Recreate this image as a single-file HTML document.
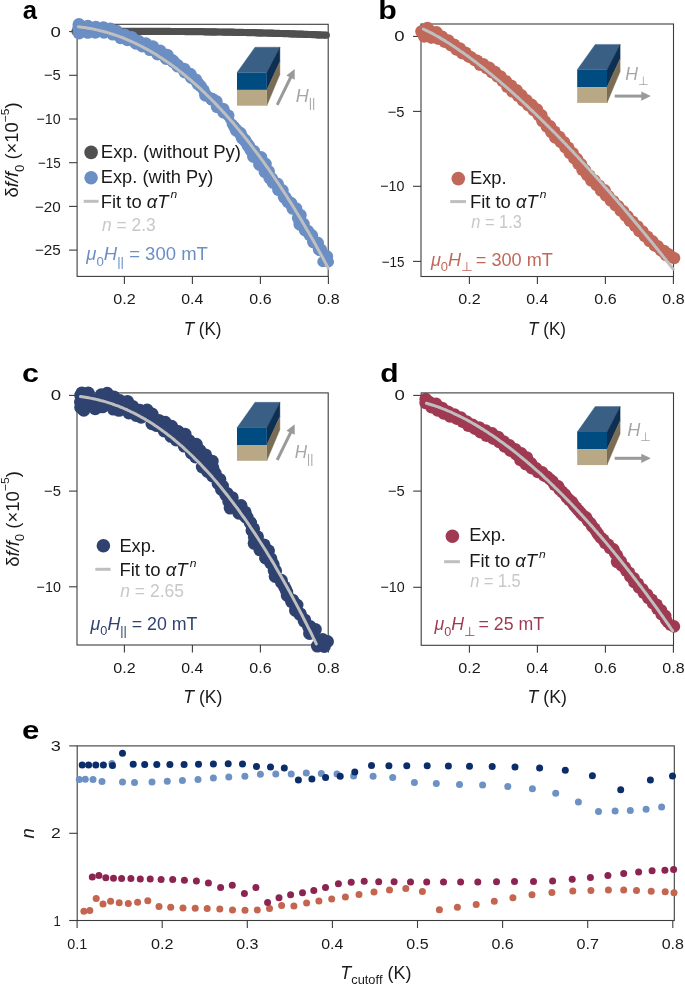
<!DOCTYPE html>
<html><head><meta charset="utf-8"><style>html,body{margin:0;padding:0;background:#fff;width:685px;height:985px;overflow:hidden}</style></head>
<body>
<svg width="685" height="985" viewBox="0 0 685 985" style="position:absolute;left:0;top:0;will-change:transform">
<rect width="685" height="985" fill="#fff"/>
<g font-family='"Liberation Sans", sans-serif' style="font-kerning:none" fill="#1a1a1a">
<rect x="77.1" y="24.3" width="251.1" height="252.09999999999997" fill="none" stroke="#3c3c3c" stroke-width="1.1"/>
<line x1="69.1" y1="31.6" x2="77.1" y2="31.6" stroke="#3c3c3c" stroke-width="1.1" stroke-linecap="butt"/>
<g transform="translate(50.57,36.6) scale(1.2012,1)" fill="#1a1a1a"><text x="0.00" y="0" font-size="15.5" xml:space="preserve">0</text></g>
<line x1="69.1" y1="75.3" x2="77.1" y2="75.3" stroke="#3c3c3c" stroke-width="1.1" stroke-linecap="butt"/>
<g transform="translate(43.97,80.4) scale(0.9852,1)" fill="#1a1a1a"><text x="0.00" y="0" font-size="15" xml:space="preserve">−5</text></g>
<line x1="69.1" y1="119.0" x2="77.1" y2="119.0" stroke="#3c3c3c" stroke-width="1.1" stroke-linecap="butt"/>
<g transform="translate(36.49,124.1) scale(0.9536,1)" fill="#1a1a1a"><text x="0.00" y="0" font-size="15" xml:space="preserve">−10</text></g>
<line x1="69.1" y1="162.7" x2="77.1" y2="162.7" stroke="#3c3c3c" stroke-width="1.1" stroke-linecap="butt"/>
<g transform="translate(38.04,167.8) scale(0.8931,1)" fill="#1a1a1a"><text x="0.00" y="0" font-size="15" xml:space="preserve">−15</text></g>
<line x1="69.1" y1="206.4" x2="77.1" y2="206.4" stroke="#3c3c3c" stroke-width="1.1" stroke-linecap="butt"/>
<g transform="translate(34.95,211.5) scale(1.0158,1)" fill="#1a1a1a"><text x="0.00" y="0" font-size="15" xml:space="preserve">−20</text></g>
<line x1="69.1" y1="250.1" x2="77.1" y2="250.1" stroke="#3c3c3c" stroke-width="1.1" stroke-linecap="butt"/>
<g transform="translate(34.95,255.2) scale(1.0177,1)" fill="#1a1a1a"><text x="0.00" y="0" font-size="15" xml:space="preserve">−25</text></g>
<line x1="124.4" y1="276.4" x2="124.4" y2="283.9" stroke="#3c3c3c" stroke-width="1.1" stroke-linecap="butt"/>
<g transform="translate(113.27,304) scale(1.0763,1)" fill="#1a1a1a"><text x="0.00" y="0" font-size="15" xml:space="preserve">0.2</text></g>
<line x1="192.4" y1="276.4" x2="192.4" y2="283.9" stroke="#3c3c3c" stroke-width="1.1" stroke-linecap="butt"/>
<g transform="translate(181.28,304) scale(1.0592,1)" fill="#1a1a1a"><text x="0.00" y="0" font-size="15" xml:space="preserve">0.4</text></g>
<line x1="260.4" y1="276.4" x2="260.4" y2="283.9" stroke="#3c3c3c" stroke-width="1.1" stroke-linecap="butt"/>
<g transform="translate(249.27,304) scale(1.0710,1)" fill="#1a1a1a"><text x="0.00" y="0" font-size="15" xml:space="preserve">0.6</text></g>
<line x1="328.4" y1="276.4" x2="328.4" y2="283.9" stroke="#3c3c3c" stroke-width="1.1" stroke-linecap="butt"/>
<g transform="translate(317.27,304) scale(1.0706,1)" fill="#1a1a1a"><text x="0.00" y="0" font-size="15" xml:space="preserve">0.8</text></g>
<g fill="#505050"><circle cx="75.0" cy="31.4" r="3.6"/><circle cx="76.6" cy="31.4" r="3.6"/><circle cx="78.2" cy="31.4" r="3.6"/><circle cx="79.7" cy="31.4" r="3.6"/><circle cx="81.3" cy="31.4" r="3.6"/><circle cx="82.9" cy="31.4" r="3.6"/><circle cx="84.5" cy="31.4" r="3.6"/><circle cx="86.1" cy="31.4" r="3.6"/><circle cx="87.6" cy="31.4" r="3.6"/><circle cx="89.2" cy="31.4" r="3.6"/><circle cx="90.8" cy="31.4" r="3.6"/><circle cx="92.4" cy="31.4" r="3.6"/><circle cx="94.0" cy="31.4" r="3.6"/><circle cx="95.5" cy="31.4" r="3.6"/><circle cx="97.1" cy="31.4" r="3.6"/><circle cx="98.7" cy="31.4" r="3.6"/><circle cx="100.3" cy="31.4" r="3.6"/><circle cx="101.9" cy="31.4" r="3.6"/><circle cx="103.4" cy="31.4" r="3.6"/><circle cx="105.0" cy="31.4" r="3.6"/><circle cx="106.6" cy="31.4" r="3.6"/><circle cx="108.2" cy="31.4" r="3.6"/><circle cx="109.8" cy="31.4" r="3.6"/><circle cx="111.4" cy="31.4" r="3.6"/><circle cx="112.9" cy="31.4" r="3.6"/><circle cx="114.5" cy="31.4" r="3.6"/><circle cx="116.1" cy="31.4" r="3.6"/><circle cx="117.7" cy="31.4" r="3.6"/><circle cx="119.3" cy="31.4" r="3.6"/><circle cx="120.8" cy="31.4" r="3.6"/><circle cx="122.4" cy="31.4" r="3.6"/><circle cx="124.0" cy="31.4" r="3.6"/><circle cx="125.6" cy="31.4" r="3.6"/><circle cx="127.2" cy="31.4" r="3.6"/><circle cx="128.7" cy="31.4" r="3.6"/><circle cx="130.3" cy="31.4" r="3.6"/><circle cx="131.9" cy="31.4" r="3.6"/><circle cx="133.5" cy="31.4" r="3.6"/><circle cx="135.1" cy="31.4" r="3.6"/><circle cx="136.6" cy="31.4" r="3.6"/><circle cx="138.2" cy="31.4" r="3.6"/><circle cx="139.8" cy="31.4" r="3.6"/><circle cx="141.4" cy="31.4" r="3.6"/><circle cx="143.0" cy="31.4" r="3.6"/><circle cx="144.5" cy="31.4" r="3.6"/><circle cx="146.1" cy="31.4" r="3.6"/><circle cx="147.7" cy="31.4" r="3.6"/><circle cx="149.3" cy="31.4" r="3.6"/><circle cx="150.9" cy="31.4" r="3.6"/><circle cx="152.4" cy="31.4" r="3.6"/><circle cx="154.0" cy="31.4" r="3.6"/><circle cx="155.6" cy="31.4" r="3.6"/><circle cx="157.2" cy="31.4" r="3.6"/><circle cx="158.8" cy="31.4" r="3.6"/><circle cx="160.3" cy="31.4" r="3.6"/><circle cx="161.9" cy="31.4" r="3.6"/><circle cx="163.5" cy="31.4" r="3.6"/><circle cx="165.1" cy="31.4" r="3.6"/><circle cx="166.7" cy="31.4" r="3.6"/><circle cx="168.2" cy="31.4" r="3.6"/><circle cx="169.8" cy="31.4" r="3.6"/><circle cx="171.4" cy="31.5" r="3.6"/><circle cx="173.0" cy="31.5" r="3.6"/><circle cx="174.6" cy="31.5" r="3.6"/><circle cx="176.2" cy="31.5" r="3.6"/><circle cx="177.7" cy="31.5" r="3.6"/><circle cx="179.3" cy="31.5" r="3.6"/><circle cx="180.9" cy="31.5" r="3.6"/><circle cx="182.5" cy="31.5" r="3.6"/><circle cx="184.1" cy="31.5" r="3.6"/><circle cx="185.6" cy="31.6" r="3.6"/><circle cx="187.2" cy="31.6" r="3.6"/><circle cx="188.8" cy="31.6" r="3.6"/><circle cx="190.4" cy="31.6" r="3.6"/><circle cx="192.0" cy="31.6" r="3.6"/><circle cx="193.5" cy="31.6" r="3.6"/><circle cx="195.1" cy="31.6" r="3.6"/><circle cx="196.7" cy="31.7" r="3.6"/><circle cx="198.3" cy="31.7" r="3.6"/><circle cx="199.9" cy="31.7" r="3.6"/><circle cx="201.4" cy="31.7" r="3.6"/><circle cx="203.0" cy="31.7" r="3.6"/><circle cx="204.6" cy="31.8" r="3.6"/><circle cx="206.2" cy="31.8" r="3.6"/><circle cx="207.8" cy="31.8" r="3.6"/><circle cx="209.3" cy="31.8" r="3.6"/><circle cx="210.9" cy="31.9" r="3.6"/><circle cx="212.5" cy="31.9" r="3.6"/><circle cx="214.1" cy="31.9" r="3.6"/><circle cx="215.7" cy="31.9" r="3.6"/><circle cx="217.2" cy="32.0" r="3.6"/><circle cx="218.8" cy="32.0" r="3.6"/><circle cx="220.4" cy="32.0" r="3.6"/><circle cx="222.0" cy="32.0" r="3.6"/><circle cx="223.6" cy="32.1" r="3.6"/><circle cx="225.1" cy="32.1" r="3.6"/><circle cx="226.7" cy="32.1" r="3.6"/><circle cx="228.3" cy="32.1" r="3.6"/><circle cx="229.9" cy="32.2" r="3.6"/><circle cx="231.5" cy="32.2" r="3.6"/><circle cx="233.1" cy="32.2" r="3.6"/><circle cx="234.6" cy="32.3" r="3.6"/><circle cx="236.2" cy="32.3" r="3.6"/><circle cx="237.8" cy="32.3" r="3.6"/><circle cx="239.4" cy="32.4" r="3.6"/><circle cx="241.0" cy="32.4" r="3.6"/><circle cx="242.5" cy="32.4" r="3.6"/><circle cx="244.1" cy="32.5" r="3.6"/><circle cx="245.7" cy="32.5" r="3.6"/><circle cx="247.3" cy="32.6" r="3.6"/><circle cx="248.9" cy="32.6" r="3.6"/><circle cx="250.4" cy="32.6" r="3.6"/><circle cx="252.0" cy="32.7" r="3.6"/><circle cx="253.6" cy="32.7" r="3.6"/><circle cx="255.2" cy="32.7" r="3.6"/><circle cx="256.8" cy="32.8" r="3.6"/><circle cx="258.3" cy="32.8" r="3.6"/><circle cx="259.9" cy="32.9" r="3.6"/><circle cx="261.5" cy="32.9" r="3.6"/><circle cx="263.1" cy="33.0" r="3.6"/><circle cx="264.7" cy="33.0" r="3.6"/><circle cx="266.2" cy="33.0" r="3.6"/><circle cx="267.8" cy="33.1" r="3.6"/><circle cx="269.4" cy="33.1" r="3.6"/><circle cx="271.0" cy="33.2" r="3.6"/><circle cx="272.6" cy="33.2" r="3.6"/><circle cx="274.1" cy="33.3" r="3.6"/><circle cx="275.7" cy="33.3" r="3.6"/><circle cx="277.3" cy="33.4" r="3.6"/><circle cx="278.9" cy="33.4" r="3.6"/><circle cx="280.5" cy="33.5" r="3.6"/><circle cx="282.0" cy="33.5" r="3.6"/><circle cx="283.6" cy="33.6" r="3.6"/><circle cx="285.2" cy="33.6" r="3.6"/><circle cx="286.8" cy="33.7" r="3.6"/><circle cx="288.4" cy="33.7" r="3.6"/><circle cx="289.9" cy="33.8" r="3.6"/><circle cx="291.5" cy="33.8" r="3.6"/><circle cx="293.1" cy="33.9" r="3.6"/><circle cx="294.7" cy="33.9" r="3.6"/><circle cx="296.3" cy="34.0" r="3.6"/><circle cx="297.9" cy="34.1" r="3.6"/><circle cx="299.4" cy="34.1" r="3.6"/><circle cx="301.0" cy="34.2" r="3.6"/><circle cx="302.6" cy="34.2" r="3.6"/><circle cx="304.2" cy="34.3" r="3.6"/><circle cx="305.8" cy="34.4" r="3.6"/><circle cx="307.3" cy="34.4" r="3.6"/><circle cx="308.9" cy="34.5" r="3.6"/><circle cx="310.5" cy="34.5" r="3.6"/><circle cx="312.1" cy="34.6" r="3.6"/><circle cx="313.7" cy="34.7" r="3.6"/><circle cx="315.2" cy="34.7" r="3.6"/><circle cx="316.8" cy="34.8" r="3.6"/><circle cx="318.4" cy="34.9" r="3.6"/><circle cx="320.0" cy="34.9" r="3.6"/><circle cx="321.6" cy="35.0" r="3.6"/><circle cx="323.1" cy="35.0" r="3.6"/><circle cx="324.7" cy="35.1" r="3.6"/><circle cx="326.3" cy="35.2" r="3.6"/></g>
<g fill="#6b8fc4"><polygon points="73.0,28.0 77.2,24.5 87.8,26.3 95.8,27.3 103.4,27.8 110.3,29.1 116.5,31.3 124.6,35.1 131.6,37.4 138.5,41.3 145.8,43.8 152.8,46.8 160.2,51.0 167.2,55.2 172.3,60.5 177.0,65.1 184.1,69.2 190.3,74.3 195.8,79.9 200.8,86.3 204.0,90.4 211.6,98.9 216.2,101.6 223.0,109.2 228.5,115.5 229.9,120.0 234.2,126.8 240.3,133.3 244.9,140.3 248.7,146.2 253.7,151.4 260.8,157.4 265.3,164.1 268.4,171.4 271.6,178.7 277.4,184.1 282.3,190.6 285.4,197.9 290.9,203.3 295.9,208.7 300.2,215.2 303.3,224.1 307.6,231.2 311.7,235.6 317.5,243.0 320.8,249.9 326.7,256.6 328.4,261.9 325.5,264.6 325.5,264.6 322.8,261.7 319.3,249.4 313.5,242.0 309.9,234.6 305.1,229.9 299.9,224.2 298.3,217.8 292.9,208.3 288.0,201.6 284.2,197.0 278.6,189.7 273.1,182.3 269.8,178.0 265.0,171.7 259.6,164.4 253.5,156.5 250.9,149.9 247.3,144.0 242.2,137.8 236.2,130.1 232.2,124.2 229.6,119.2 223.8,112.2 217.2,106.7 211.8,99.1 205.6,95.2 203.3,89.4 198.0,83.7 191.4,77.5 184.9,71.9 178.0,66.1 173.3,61.7 166.2,58.5 157.6,54.0 150.0,49.6 142.4,45.9 136.0,43.2 127.5,39.7 120.7,37.7 112.8,34.1 104.0,32.2 95.3,32.2 87.8,32.3 76.8,32.9 73.0,28.0"/><circle cx="78.3" cy="28.0" r="5.8"/><circle cx="79.0" cy="24.5" r="6.5"/><circle cx="87.8" cy="26.3" r="6.5"/><circle cx="95.8" cy="27.3" r="6.5"/><circle cx="103.4" cy="27.8" r="6.5"/><circle cx="110.3" cy="29.1" r="6.5"/><circle cx="116.5" cy="31.3" r="6.5"/><circle cx="124.6" cy="35.1" r="6.5"/><circle cx="131.6" cy="37.4" r="6.5"/><circle cx="138.5" cy="41.3" r="6.5"/><circle cx="145.8" cy="43.8" r="6.5"/><circle cx="152.8" cy="46.8" r="6.5"/><circle cx="160.2" cy="51.0" r="6.5"/><circle cx="167.2" cy="55.2" r="6.5"/><circle cx="172.3" cy="60.5" r="6.5"/><circle cx="177.0" cy="65.1" r="6.5"/><circle cx="184.1" cy="69.2" r="6.5"/><circle cx="190.3" cy="74.3" r="6.5"/><circle cx="195.8" cy="79.9" r="6.5"/><circle cx="200.8" cy="86.3" r="6.2"/><circle cx="204.0" cy="90.4" r="5.8"/><circle cx="211.6" cy="98.9" r="6.4"/><circle cx="216.2" cy="101.6" r="6.5"/><circle cx="223.0" cy="109.2" r="6.5"/><circle cx="228.5" cy="115.5" r="6.0"/><circle cx="229.9" cy="120.0" r="4.5"/><circle cx="234.2" cy="126.8" r="5.9"/><circle cx="240.3" cy="133.3" r="6.5"/><circle cx="244.9" cy="140.3" r="6.5"/><circle cx="248.7" cy="146.2" r="6.5"/><circle cx="253.7" cy="151.4" r="6.5"/><circle cx="260.8" cy="157.4" r="6.5"/><circle cx="265.3" cy="164.1" r="6.5"/><circle cx="268.4" cy="171.4" r="6.5"/><circle cx="271.6" cy="178.7" r="6.5"/><circle cx="277.4" cy="184.1" r="6.5"/><circle cx="282.3" cy="190.6" r="6.5"/><circle cx="285.4" cy="197.9" r="6.5"/><circle cx="290.9" cy="203.3" r="6.5"/><circle cx="295.9" cy="208.7" r="6.5"/><circle cx="300.2" cy="215.2" r="6.5"/><circle cx="303.3" cy="224.1" r="6.5"/><circle cx="307.6" cy="231.2" r="6.5"/><circle cx="311.7" cy="235.6" r="6.5"/><circle cx="317.5" cy="243.0" r="6.5"/><circle cx="320.8" cy="249.9" r="6.5"/><circle cx="326.7" cy="256.6" r="6.5"/><circle cx="328.4" cy="261.9" r="5.6"/><circle cx="325.5" cy="264.6" r="2.0"/><circle cx="78.3" cy="28.0" r="5.8"/><circle cx="79.0" cy="32.9" r="6.5"/><circle cx="87.8" cy="32.3" r="6.5"/><circle cx="95.3" cy="32.2" r="6.5"/><circle cx="104.0" cy="32.2" r="6.5"/><circle cx="112.8" cy="34.1" r="6.5"/><circle cx="120.7" cy="37.7" r="6.5"/><circle cx="127.5" cy="39.7" r="6.5"/><circle cx="136.0" cy="43.2" r="6.5"/><circle cx="142.4" cy="45.9" r="6.5"/><circle cx="150.0" cy="49.6" r="6.5"/><circle cx="157.6" cy="54.0" r="6.5"/><circle cx="166.2" cy="58.5" r="6.5"/><circle cx="173.3" cy="61.7" r="6.5"/><circle cx="178.0" cy="66.1" r="6.5"/><circle cx="184.9" cy="71.9" r="6.5"/><circle cx="191.4" cy="77.5" r="6.5"/><circle cx="198.0" cy="83.7" r="6.5"/><circle cx="203.3" cy="89.4" r="5.6"/><circle cx="205.6" cy="95.2" r="6.5"/><circle cx="211.8" cy="99.1" r="6.4"/><circle cx="217.2" cy="106.7" r="6.5"/><circle cx="223.8" cy="112.2" r="6.5"/><circle cx="229.6" cy="119.2" r="4.6"/><circle cx="232.2" cy="124.2" r="5.5"/><circle cx="236.2" cy="130.1" r="6.5"/><circle cx="242.2" cy="137.8" r="6.5"/><circle cx="247.3" cy="144.0" r="6.4"/><circle cx="250.9" cy="149.9" r="6.5"/><circle cx="253.5" cy="156.5" r="6.5"/><circle cx="259.6" cy="164.4" r="6.5"/><circle cx="265.0" cy="171.7" r="6.5"/><circle cx="269.8" cy="178.0" r="6.5"/><circle cx="273.1" cy="182.3" r="6.5"/><circle cx="278.6" cy="189.7" r="6.5"/><circle cx="284.2" cy="197.0" r="6.5"/><circle cx="288.0" cy="201.6" r="6.5"/><circle cx="292.9" cy="208.3" r="6.5"/><circle cx="298.3" cy="217.8" r="6.5"/><circle cx="299.9" cy="224.2" r="6.5"/><circle cx="305.1" cy="229.9" r="6.5"/><circle cx="309.9" cy="234.6" r="6.5"/><circle cx="313.5" cy="242.0" r="6.5"/><circle cx="319.3" cy="249.4" r="6.5"/><circle cx="322.8" cy="261.7" r="5.5"/><circle cx="325.5" cy="264.6" r="2.0"/></g>
<path d="M78.4,26.7 L80.1,26.9 L81.8,27.2 L83.4,27.4 L85.1,27.6 L86.8,27.9 L88.5,28.2 L90.1,28.5 L91.8,28.8 L93.5,29.1 L95.2,29.5 L96.8,29.9 L98.5,30.2 L100.2,30.7 L101.9,31.1 L103.6,31.5 L105.2,32.0 L106.9,32.4 L108.6,32.9 L110.3,33.5 L111.9,34.0 L113.6,34.5 L115.3,35.1 L117.0,35.7 L118.7,36.3 L120.3,36.9 L122.0,37.5 L123.7,38.2 L125.4,38.9 L127.0,39.6 L128.7,40.3 L130.4,41.0 L132.1,41.8 L133.7,42.5 L135.4,43.3 L137.1,44.1 L138.8,45.0 L140.5,45.8 L142.1,46.7 L143.8,47.6 L145.5,48.5 L147.2,49.4 L148.8,50.3 L150.5,51.3 L152.2,52.3 L153.9,53.3 L155.6,54.3 L157.2,55.3 L158.9,56.4 L160.6,57.5 L162.3,58.6 L163.9,59.7 L165.6,60.8 L167.3,62.0 L169.0,63.1 L170.6,64.3 L172.3,65.6 L174.0,66.8 L175.7,68.0 L177.4,69.3 L179.0,70.6 L180.7,71.9 L182.4,73.3 L184.1,74.6 L185.7,76.0 L187.4,77.4 L189.1,78.8 L190.8,80.2 L192.4,81.7 L194.1,83.1 L195.8,84.6 L197.5,86.1 L199.2,87.7 L200.8,89.2 L202.5,90.8 L204.2,92.4 L205.9,94.0 L207.5,95.7 L209.2,97.3 L210.9,99.0 L212.6,100.7 L214.3,102.4 L215.9,104.1 L217.6,105.9 L219.3,107.7 L221.0,109.5 L222.6,111.3 L224.3,113.1 L226.0,115.0 L227.7,116.9 L229.3,118.8 L231.0,120.7 L232.7,122.6 L234.4,124.6 L236.1,126.6 L237.7,128.6 L239.4,130.6 L241.1,132.7 L242.8,134.7 L244.4,136.8 L246.1,138.9 L247.8,141.0 L249.5,143.2 L251.1,145.4 L252.8,147.6 L254.5,149.8 L256.2,152.0 L257.9,154.3 L259.5,156.5 L261.2,158.8 L262.9,161.2 L264.6,163.5 L266.2,165.9 L267.9,168.2 L269.6,170.6 L271.3,173.1 L273.0,175.5 L274.6,178.0 L276.3,180.5 L278.0,183.0 L279.7,185.5 L281.3,188.1 L283.0,190.6 L284.7,193.2 L286.4,195.8 L288.0,198.5 L289.7,201.1 L291.4,203.8 L293.1,206.5 L294.8,209.2 L296.4,212.0 L298.1,214.7 L299.8,217.5 L301.5,220.3 L303.1,223.2 L304.8,226.0 L306.5,228.9 L308.2,231.8 L309.9,234.7 L311.5,237.6 L313.2,240.6 L314.9,243.6 L316.6,246.6 L318.2,249.6 L319.9,252.7 L321.6,255.7 L323.3,258.8 L324.9,261.9 L326.6,265.1 L328.3,268.2" fill="none" stroke="#bfbfbf" stroke-width="3" stroke-linecap="round"/>
<g transform="translate(22.75,19.3) scale(0.9882,1)" fill="#000"><text x="0.00" y="0" font-size="26" font-weight="bold" xml:space="preserve">a</text></g>
<circle cx="91.1" cy="152.4" r="6.8" fill="#505050"/>
<g transform="translate(100.78,157.8) scale(1.0613,1)" fill="#1a1a1a"><text x="0.00" y="0" font-size="17.5" xml:space="preserve">Exp. (without Py)</text></g>
<circle cx="91.1" cy="177.7" r="6.8" fill="#6b8fc4"/>
<g transform="translate(100.80,182.9) scale(1.0435,1)" fill="#1a1a1a"><text x="0.00" y="0" font-size="17.5" xml:space="preserve">Exp. (with Py)</text></g>
<line x1="83.7" y1="201.3" x2="98.6" y2="201.3" stroke="#bfbfbf" stroke-width="3" stroke-linecap="butt"/>
<g transform="translate(100.79,207.7) scale(1.0521,1)" fill="#1a1a1a"><text x="0.00" y="0" font-size="17.5" xml:space="preserve">Fit to </text><text x="43.76" y="0" font-size="17.5" font-style="italic" xml:space="preserve">αT</text><text x="64.43" y="0" font-size="7" xml:space="preserve"> </text><text x="66.37" y="-9.4" font-size="11.5" font-style="italic" xml:space="preserve">n</text></g>
<g transform="translate(102.01,230.6) scale(0.9954,1)" fill="#c8c8c8"><text x="0.00" y="0" font-size="17.5" font-style="italic" xml:space="preserve">n</text><text x="9.73" y="0" font-size="17.5" xml:space="preserve"> = 2.3</text></g>
<g transform="translate(86.29,260.2) scale(1.0582,1)" fill="#6b8fc4"><text x="0.00" y="0" font-size="17.5" font-style="italic" xml:space="preserve">μ</text><text x="9.59" y="5.3" font-size="12.5" xml:space="preserve">0</text><text x="16.54" y="0" font-size="17.5" font-style="italic" xml:space="preserve">H</text><text x="29.18" y="5.3" font-size="12.5" xml:space="preserve">||</text><text x="35.67" y="0" font-size="17.5" xml:space="preserve"> = 300 mT</text></g>
<g transform="translate(183.67,334.7) scale(0.9745,1)" fill="#1a1a1a"><text x="0.00" y="0" font-size="17.5" font-style="italic" xml:space="preserve">T</text><text x="10.69" y="0" font-size="17.5" xml:space="preserve"> (K)</text></g>
<g transform="translate(18.3,196.8) rotate(-90) scale(1.0510,1) translate(-0.73,0)" fill="#1a1a1a"><text x="0.00" y="0" font-size="17.5" xml:space="preserve">δ</text><text x="9.74" y="0" font-size="17.5" font-style="italic" xml:space="preserve">f/f</text><text x="24.33" y="5.2" font-size="12.5" xml:space="preserve">0</text><text x="31.28" y="0" font-size="17.5" xml:space="preserve"> (×10</text><text x="71.65" y="-9.2" font-size="11.5" xml:space="preserve">−5</text><text x="84.77" y="0" font-size="17.5" xml:space="preserve">)</text></g>
<rect x="421.0" y="24.0" width="252.5" height="252.5" fill="none" stroke="#3c3c3c" stroke-width="1.1"/>
<line x1="413.0" y1="36.4" x2="421.0" y2="36.4" stroke="#3c3c3c" stroke-width="1.1" stroke-linecap="butt"/>
<g transform="translate(394.27,41.4) scale(1.2012,1)" fill="#1a1a1a"><text x="0.00" y="0" font-size="15.5" xml:space="preserve">0</text></g>
<line x1="413.0" y1="111.4" x2="421.0" y2="111.4" stroke="#3c3c3c" stroke-width="1.1" stroke-linecap="butt"/>
<g transform="translate(387.67,116.5) scale(0.9852,1)" fill="#1a1a1a"><text x="0.00" y="0" font-size="15" xml:space="preserve">−5</text></g>
<line x1="413.0" y1="186.3" x2="421.0" y2="186.3" stroke="#3c3c3c" stroke-width="1.1" stroke-linecap="butt"/>
<g transform="translate(380.19,191.4) scale(0.9536,1)" fill="#1a1a1a"><text x="0.00" y="0" font-size="15" xml:space="preserve">−10</text></g>
<line x1="413.0" y1="261.4" x2="421.0" y2="261.4" stroke="#3c3c3c" stroke-width="1.1" stroke-linecap="butt"/>
<g transform="translate(381.74,266.5) scale(0.8931,1)" fill="#1a1a1a"><text x="0.00" y="0" font-size="15" xml:space="preserve">−15</text></g>
<line x1="469.4" y1="276.5" x2="469.4" y2="284.0" stroke="#3c3c3c" stroke-width="1.1" stroke-linecap="butt"/>
<g transform="translate(458.27,304) scale(1.0763,1)" fill="#1a1a1a"><text x="0.00" y="0" font-size="15" xml:space="preserve">0.2</text></g>
<line x1="537.4" y1="276.5" x2="537.4" y2="284.0" stroke="#3c3c3c" stroke-width="1.1" stroke-linecap="butt"/>
<g transform="translate(526.28,304) scale(1.0592,1)" fill="#1a1a1a"><text x="0.00" y="0" font-size="15" xml:space="preserve">0.4</text></g>
<line x1="605.4" y1="276.5" x2="605.4" y2="284.0" stroke="#3c3c3c" stroke-width="1.1" stroke-linecap="butt"/>
<g transform="translate(594.27,304) scale(1.0710,1)" fill="#1a1a1a"><text x="0.00" y="0" font-size="15" xml:space="preserve">0.6</text></g>
<line x1="673.4" y1="276.5" x2="673.4" y2="284.0" stroke="#3c3c3c" stroke-width="1.1" stroke-linecap="butt"/>
<g transform="translate(662.27,304) scale(1.0706,1)" fill="#1a1a1a"><text x="0.00" y="0" font-size="15" xml:space="preserve">0.8</text></g>
<g fill="#c0685a"><polygon points="421.4,31.5 429.5,30.7 436.6,32.3 442.2,36.8 448.3,40.4 454.1,44.6 459.9,48.4 465.5,52.6 470.9,57.2 477.0,60.7 483.2,64.2 489.4,67.8 495.0,71.9 500.6,76.4 505.9,81.1 511.2,85.6 516.6,90.1 521.5,95.3 526.4,100.2 531.7,104.8 537.0,109.5 541.4,115.2 545.0,121.5 550.2,126.3 554.5,131.7 559.4,136.9 564.0,142.1 568.3,147.7 572.7,153.1 576.9,158.8 581.2,164.3 585.1,170.2 589.5,175.7 594.5,180.5 599.1,185.7 604.7,190.3 608.4,196.1 613.3,201.1 618.2,206.2 623.1,211.2 627.6,216.5 632.6,221.6 637.6,226.4 642.5,231.5 647.4,236.6 652.5,241.3 657.7,246.1 662.6,251.3 665.9,255.0 660.7,250.1 654.8,245.7 649.5,241.1 644.7,236.1 639.4,231.2 635.0,225.8 629.9,220.9 625.5,215.6 620.6,210.6 615.7,205.4 610.8,200.6 606.0,195.5 601.0,190.6 596.7,185.2 591.3,180.5 587.1,175.0 582.4,169.8 578.5,163.9 574.3,158.4 569.7,153.0 565.4,147.4 560.9,142.2 555.3,137.7 551.2,132.1 546.8,126.5 542.3,121.1 538.5,115.0 533.5,110.0 528.4,105.4 523.0,100.7 518.1,95.8 512.4,91.6 507.3,86.8 502.8,81.2 497.5,76.6 492.0,72.3 486.4,68.0 480.0,64.8 474.7,60.1 468.7,56.5 462.4,53.3 456.5,49.6 451.0,45.3 444.8,41.9 438.5,38.9 431.3,37.7 424.2,36.5"/><circle cx="421.4" cy="31.5" r="6.20"/><circle cx="429.5" cy="30.7" r="6.20"/><circle cx="436.6" cy="32.3" r="6.20"/><circle cx="442.2" cy="36.8" r="6.20"/><circle cx="448.3" cy="40.4" r="6.20"/><circle cx="454.1" cy="44.6" r="6.20"/><circle cx="459.9" cy="48.4" r="6.20"/><circle cx="465.5" cy="52.6" r="6.20"/><circle cx="470.9" cy="57.2" r="6.20"/><circle cx="477.0" cy="60.7" r="6.20"/><circle cx="483.2" cy="64.2" r="6.20"/><circle cx="489.4" cy="67.8" r="6.20"/><circle cx="495.0" cy="71.9" r="6.20"/><circle cx="500.6" cy="76.4" r="6.20"/><circle cx="505.9" cy="81.1" r="6.20"/><circle cx="511.2" cy="85.6" r="6.20"/><circle cx="516.6" cy="90.1" r="6.20"/><circle cx="521.5" cy="95.3" r="6.20"/><circle cx="526.4" cy="100.2" r="6.20"/><circle cx="531.7" cy="104.8" r="6.20"/><circle cx="537.0" cy="109.5" r="6.20"/><circle cx="541.4" cy="115.2" r="6.20"/><circle cx="545.0" cy="121.5" r="6.20"/><circle cx="550.2" cy="126.3" r="6.20"/><circle cx="554.5" cy="131.7" r="6.20"/><circle cx="559.4" cy="136.9" r="6.20"/><circle cx="564.0" cy="142.1" r="6.20"/><circle cx="568.3" cy="147.7" r="6.20"/><circle cx="572.7" cy="153.1" r="6.20"/><circle cx="576.9" cy="158.8" r="6.20"/><circle cx="581.2" cy="164.3" r="6.20"/><circle cx="585.1" cy="170.2" r="6.20"/><circle cx="589.5" cy="175.7" r="6.20"/><circle cx="594.5" cy="180.5" r="6.20"/><circle cx="599.1" cy="185.7" r="6.20"/><circle cx="604.7" cy="190.3" r="6.20"/><circle cx="608.4" cy="196.1" r="6.20"/><circle cx="613.3" cy="201.1" r="6.20"/><circle cx="618.2" cy="206.2" r="6.20"/><circle cx="623.1" cy="211.2" r="6.20"/><circle cx="627.6" cy="216.5" r="6.20"/><circle cx="632.6" cy="221.6" r="6.20"/><circle cx="637.6" cy="226.4" r="6.20"/><circle cx="642.5" cy="231.5" r="6.20"/><circle cx="647.4" cy="236.6" r="6.20"/><circle cx="652.5" cy="241.3" r="6.20"/><circle cx="657.7" cy="246.1" r="6.20"/><circle cx="662.6" cy="251.3" r="6.20"/><circle cx="424.2" cy="36.5" r="6.20"/><circle cx="431.3" cy="37.7" r="6.20"/><circle cx="438.5" cy="38.9" r="6.20"/><circle cx="444.8" cy="41.9" r="6.20"/><circle cx="451.0" cy="45.3" r="6.20"/><circle cx="456.5" cy="49.6" r="6.20"/><circle cx="462.4" cy="53.3" r="6.20"/><circle cx="468.7" cy="56.5" r="6.20"/><circle cx="474.7" cy="60.1" r="6.20"/><circle cx="480.0" cy="64.8" r="6.20"/><circle cx="486.4" cy="68.0" r="6.20"/><circle cx="492.0" cy="72.3" r="6.20"/><circle cx="497.5" cy="76.6" r="6.20"/><circle cx="502.8" cy="81.2" r="6.20"/><circle cx="507.3" cy="86.8" r="6.20"/><circle cx="512.4" cy="91.6" r="6.20"/><circle cx="518.1" cy="95.8" r="6.20"/><circle cx="523.0" cy="100.7" r="6.20"/><circle cx="528.4" cy="105.4" r="6.20"/><circle cx="533.5" cy="110.0" r="6.20"/><circle cx="538.5" cy="115.0" r="6.20"/><circle cx="542.3" cy="121.1" r="6.20"/><circle cx="546.8" cy="126.5" r="6.20"/><circle cx="551.2" cy="132.1" r="6.20"/><circle cx="555.3" cy="137.7" r="6.20"/><circle cx="560.9" cy="142.2" r="6.20"/><circle cx="565.4" cy="147.4" r="6.20"/><circle cx="569.7" cy="153.0" r="6.20"/><circle cx="574.3" cy="158.4" r="6.20"/><circle cx="578.5" cy="163.9" r="6.20"/><circle cx="582.4" cy="169.8" r="6.20"/><circle cx="587.1" cy="175.0" r="6.20"/><circle cx="591.3" cy="180.5" r="6.20"/><circle cx="596.7" cy="185.2" r="6.20"/><circle cx="601.0" cy="190.6" r="6.20"/><circle cx="606.0" cy="195.5" r="6.20"/><circle cx="610.8" cy="200.6" r="6.20"/><circle cx="615.7" cy="205.4" r="6.20"/><circle cx="620.6" cy="210.6" r="6.20"/><circle cx="625.5" cy="215.6" r="6.20"/><circle cx="629.9" cy="220.9" r="6.20"/><circle cx="635.0" cy="225.8" r="6.20"/><circle cx="639.4" cy="231.2" r="6.20"/><circle cx="644.7" cy="236.1" r="6.20"/><circle cx="649.5" cy="241.1" r="6.20"/><circle cx="654.8" cy="245.7" r="6.20"/><circle cx="660.7" cy="250.1" r="6.20"/><circle cx="665.9" cy="255.0" r="6.20"/></g>
<g fill="#c0685a"><circle cx="422.8" cy="31.5" r="6.4"/><circle cx="427.5" cy="28.2" r="6.4"/><circle cx="664" cy="251" r="6.2"/><circle cx="668" cy="254" r="6.2"/><circle cx="671" cy="256.5" r="6.2"/><circle cx="674.2" cy="258.1" r="6.2"/></g>
<path d="M423.3,29.0 L425.0,29.8 L426.7,30.6 L428.3,31.5 L430.0,32.3 L431.7,33.2 L433.4,34.1 L435.0,35.0 L436.7,36.0 L438.4,36.9 L440.1,37.9 L441.7,38.9 L443.4,39.9 L445.1,40.9 L446.8,42.0 L448.5,43.0 L450.1,44.1 L451.8,45.2 L453.5,46.3 L455.2,47.4 L456.8,48.6 L458.5,49.7 L460.2,50.9 L461.9,52.0 L463.6,53.2 L465.2,54.4 L466.9,55.6 L468.6,56.8 L470.3,58.1 L471.9,59.3 L473.6,60.6 L475.3,61.8 L477.0,63.1 L478.6,64.4 L480.3,65.7 L482.0,67.0 L483.7,68.3 L485.4,69.7 L487.0,71.0 L488.7,72.4 L490.4,73.7 L492.1,75.1 L493.7,76.5 L495.4,77.9 L497.1,79.3 L498.8,80.7 L500.5,82.1 L502.1,83.6 L503.8,85.0 L505.5,86.5 L507.2,87.9 L508.8,89.4 L510.5,90.9 L512.2,92.4 L513.9,93.9 L515.5,95.4 L517.2,96.9 L518.9,98.4 L520.6,100.0 L522.3,101.5 L523.9,103.1 L525.6,104.6 L527.3,106.2 L529.0,107.8 L530.6,109.3 L532.3,110.9 L534.0,112.5 L535.7,114.1 L537.3,115.8 L539.0,117.4 L540.7,119.0 L542.4,120.7 L544.1,122.3 L545.7,124.0 L547.4,125.6 L549.1,127.3 L550.8,129.0 L552.4,130.7 L554.1,132.3 L555.8,134.0 L557.5,135.8 L559.2,137.5 L560.8,139.2 L562.5,140.9 L564.2,142.7 L565.9,144.4 L567.5,146.2 L569.2,147.9 L570.9,149.7 L572.6,151.4 L574.2,153.2 L575.9,155.0 L577.6,156.8 L579.3,158.6 L581.0,160.4 L582.6,162.2 L584.3,164.0 L586.0,165.9 L587.7,167.7 L589.3,169.5 L591.0,171.4 L592.7,173.2 L594.4,175.1 L596.0,176.9 L597.7,178.8 L599.4,180.7 L601.1,182.6 L602.8,184.5 L604.4,186.4 L606.1,188.3 L607.8,190.2 L609.5,192.1 L611.1,194.0 L612.8,195.9 L614.5,197.9 L616.2,199.8 L617.9,201.7 L619.5,203.7 L621.2,205.6 L622.9,207.6 L624.6,209.6 L626.2,211.5 L627.9,213.5 L629.6,215.5 L631.3,217.5 L632.9,219.5 L634.6,221.5 L636.3,223.5 L638.0,225.5 L639.7,227.5 L641.3,229.6 L643.0,231.6 L644.7,233.6 L646.4,235.7 L648.0,237.7 L649.7,239.8 L651.4,241.8 L653.1,243.9 L654.8,246.0 L656.4,248.0 L658.1,250.1 L659.8,252.2 L661.5,254.3 L663.1,256.4 L664.8,258.5 L666.5,260.6 L668.2,262.7 L669.8,264.8 L671.5,266.9 L673.2,269.1" fill="none" stroke="#bfbfbf" stroke-width="3" stroke-linecap="round"/>
<g transform="translate(378.20,19.3) scale(1.1678,1)" fill="#000"><text x="0.00" y="0" font-size="26" font-weight="bold" xml:space="preserve">b</text></g>
<circle cx="458.3" cy="178.6" r="6.8" fill="#c0685a"/>
<g transform="translate(470.00,183.6) scale(1.0474,1)" fill="#1a1a1a"><text x="0.00" y="0" font-size="17.5" xml:space="preserve">Exp.</text></g>
<line x1="450.2" y1="201.6" x2="466" y2="201.6" stroke="#bfbfbf" stroke-width="3" stroke-linecap="butt"/>
<g transform="translate(469.99,207.5) scale(1.0507,1)" fill="#1a1a1a"><text x="0.00" y="0" font-size="17.5" xml:space="preserve">Fit to </text><text x="43.76" y="0" font-size="17.5" font-style="italic" xml:space="preserve">αT</text><text x="64.43" y="0" font-size="7" xml:space="preserve"> </text><text x="66.37" y="-9.4" font-size="11.5" font-style="italic" xml:space="preserve">n</text></g>
<g transform="translate(471.23,228.3) scale(0.9387,1)" fill="#c8c8c8"><text x="0.00" y="0" font-size="17.5" font-style="italic" xml:space="preserve">n</text><text x="9.73" y="0" font-size="17.5" xml:space="preserve"> = 1.3</text></g>
<g transform="translate(430.88,265.5) scale(1.0357,1)" fill="#c0685a"><text x="0.00" y="0" font-size="17.5" font-style="italic" xml:space="preserve">μ</text><text x="9.59" y="5.3" font-size="12.5" xml:space="preserve">0</text><text x="16.54" y="0" font-size="17.5" font-style="italic" xml:space="preserve">H</text><text x="29.18" y="5.3" font-size="12.5" xml:space="preserve">⊥</text><text x="38.55" y="0" font-size="17.5" xml:space="preserve"> = 300 mT</text></g>
<g transform="translate(528.07,334.7) scale(0.9745,1)" fill="#1a1a1a"><text x="0.00" y="0" font-size="17.5" font-style="italic" xml:space="preserve">T</text><text x="10.69" y="0" font-size="17.5" xml:space="preserve"> (K)</text></g>
<rect x="77.0" y="392.9" width="251.2" height="252.10000000000002" fill="none" stroke="#3c3c3c" stroke-width="1.1"/>
<line x1="69.0" y1="395.4" x2="77.0" y2="395.4" stroke="#3c3c3c" stroke-width="1.1" stroke-linecap="butt"/>
<g transform="translate(50.67,400.4) scale(1.2012,1)" fill="#1a1a1a"><text x="0.00" y="0" font-size="15.5" xml:space="preserve">0</text></g>
<line x1="69.0" y1="491.1" x2="77.0" y2="491.1" stroke="#3c3c3c" stroke-width="1.1" stroke-linecap="butt"/>
<g transform="translate(44.07,496.2) scale(0.9852,1)" fill="#1a1a1a"><text x="0.00" y="0" font-size="15" xml:space="preserve">−5</text></g>
<line x1="69.0" y1="586.8" x2="77.0" y2="586.8" stroke="#3c3c3c" stroke-width="1.1" stroke-linecap="butt"/>
<g transform="translate(36.59,591.9) scale(0.9536,1)" fill="#1a1a1a"><text x="0.00" y="0" font-size="15" xml:space="preserve">−10</text></g>
<line x1="124.4" y1="645.0" x2="124.4" y2="652.5" stroke="#3c3c3c" stroke-width="1.1" stroke-linecap="butt"/>
<g transform="translate(113.27,672.9) scale(1.0763,1)" fill="#1a1a1a"><text x="0.00" y="0" font-size="15" xml:space="preserve">0.2</text></g>
<line x1="192.4" y1="645.0" x2="192.4" y2="652.5" stroke="#3c3c3c" stroke-width="1.1" stroke-linecap="butt"/>
<g transform="translate(181.28,672.9) scale(1.0592,1)" fill="#1a1a1a"><text x="0.00" y="0" font-size="15" xml:space="preserve">0.4</text></g>
<line x1="260.4" y1="645.0" x2="260.4" y2="652.5" stroke="#3c3c3c" stroke-width="1.1" stroke-linecap="butt"/>
<g transform="translate(249.27,672.9) scale(1.0710,1)" fill="#1a1a1a"><text x="0.00" y="0" font-size="15" xml:space="preserve">0.6</text></g>
<line x1="328.4" y1="645.0" x2="328.4" y2="652.5" stroke="#3c3c3c" stroke-width="1.1" stroke-linecap="butt"/>
<g transform="translate(317.27,672.9) scale(1.0706,1)" fill="#1a1a1a"><text x="0.00" y="0" font-size="15" xml:space="preserve">0.8</text></g>
<g fill="#2f4270"><polygon points="74.7,402.1 76.4,395.4 81.9,392.9 88.3,393.1 101.3,394.8 107.2,393.3 113.9,396.9 119.8,400.6 127.5,401.4 132.7,406.4 139.9,410.3 147.1,410.0 152.1,414.1 158.9,420.4 165.2,422.3 171.6,426.3 178.3,431.5 185.0,434.2 189.1,440.7 196.3,444.3 200.0,450.5 205.6,454.9 212.2,461.2 212.9,467.9 215.2,473.3 219.8,479.4 222.5,486.0 227.1,493.4 232.2,497.7 241.0,505.6 245.1,512.2 247.3,517.7 250.6,523.1 253.6,528.9 257.5,536.8 264.1,544.9 268.5,550.8 271.0,558.9 273.2,564.7 275.6,570.9 281.3,580.3 284.4,586.8 286.8,592.0 292.6,600.2 297.0,605.0 300.3,613.9 304.7,619.9 310.1,626.5 315.3,629.4 322.6,639.5 327.5,641.5 324.3,646.5 320.8,648.1 320.8,648.1 317.4,646.1 309.6,633.4 308.6,627.0 304.2,621.1 300.0,614.4 295.5,610.3 291.6,601.6 287.3,595.4 285.7,589.2 281.5,582.5 275.2,576.4 274.2,570.4 270.6,563.0 265.5,557.9 259.9,549.8 254.2,543.3 254.4,537.3 252.0,530.5 250.2,522.4 246.0,517.2 239.0,513.2 230.2,508.1 228.8,501.5 225.8,494.9 221.5,489.4 218.1,483.5 212.5,475.9 207.6,471.5 202.3,467.0 195.5,457.0 191.3,452.8 184.2,446.1 176.2,439.9 171.0,436.3 164.2,430.9 156.9,425.6 151.9,423.7 141.2,417.2 136.2,415.5 128.9,413.0 119.0,410.3 113.4,409.1 102.4,406.8 95.2,408.7 83.8,410.2 77.8,407.4 74.7,402.1"/><circle cx="80.2" cy="402.1" r="6.0"/><circle cx="80.7" cy="395.4" r="6.5"/><circle cx="81.9" cy="392.9" r="6.5"/><circle cx="88.3" cy="393.1" r="6.5"/><circle cx="101.3" cy="394.8" r="6.5"/><circle cx="107.2" cy="393.3" r="6.5"/><circle cx="113.9" cy="396.9" r="6.5"/><circle cx="119.8" cy="400.6" r="6.5"/><circle cx="127.5" cy="401.4" r="6.5"/><circle cx="132.7" cy="406.4" r="6.5"/><circle cx="139.9" cy="410.3" r="6.5"/><circle cx="147.1" cy="410.0" r="6.5"/><circle cx="152.1" cy="414.1" r="6.5"/><circle cx="158.9" cy="420.4" r="6.5"/><circle cx="165.2" cy="422.3" r="6.5"/><circle cx="171.6" cy="426.3" r="6.5"/><circle cx="178.3" cy="431.5" r="6.5"/><circle cx="185.0" cy="434.2" r="6.5"/><circle cx="189.1" cy="440.7" r="6.5"/><circle cx="196.3" cy="444.3" r="6.5"/><circle cx="200.0" cy="450.5" r="6.5"/><circle cx="205.6" cy="454.9" r="6.5"/><circle cx="212.2" cy="461.2" r="6.5"/><circle cx="212.9" cy="467.9" r="6.5"/><circle cx="215.2" cy="473.3" r="6.5"/><circle cx="219.8" cy="479.4" r="6.5"/><circle cx="222.5" cy="486.0" r="6.5"/><circle cx="227.1" cy="493.4" r="6.5"/><circle cx="232.2" cy="497.7" r="6.5"/><circle cx="241.0" cy="505.6" r="6.5"/><circle cx="245.1" cy="512.2" r="6.5"/><circle cx="247.3" cy="517.7" r="6.5"/><circle cx="250.6" cy="523.1" r="6.5"/><circle cx="253.6" cy="528.9" r="6.5"/><circle cx="257.5" cy="536.8" r="6.5"/><circle cx="264.1" cy="544.9" r="6.5"/><circle cx="268.5" cy="550.8" r="6.5"/><circle cx="271.0" cy="558.9" r="6.5"/><circle cx="273.2" cy="564.7" r="6.5"/><circle cx="275.6" cy="570.9" r="6.5"/><circle cx="281.3" cy="580.3" r="6.5"/><circle cx="284.4" cy="586.8" r="6.4"/><circle cx="286.8" cy="592.0" r="6.4"/><circle cx="292.6" cy="600.2" r="6.5"/><circle cx="297.0" cy="605.0" r="6.5"/><circle cx="300.3" cy="613.9" r="6.5"/><circle cx="304.7" cy="619.9" r="6.5"/><circle cx="310.1" cy="626.5" r="6.5"/><circle cx="315.3" cy="629.4" r="6.5"/><circle cx="322.6" cy="639.5" r="6.5"/><circle cx="327.5" cy="641.5" r="6.5"/><circle cx="324.3" cy="646.5" r="6.5"/><circle cx="320.8" cy="648.1" r="2.8"/><circle cx="80.2" cy="402.1" r="6.0"/><circle cx="80.7" cy="407.4" r="6.5"/><circle cx="83.8" cy="410.2" r="6.5"/><circle cx="95.2" cy="408.7" r="6.5"/><circle cx="102.4" cy="406.8" r="6.5"/><circle cx="113.4" cy="409.1" r="6.5"/><circle cx="119.0" cy="410.3" r="6.5"/><circle cx="128.9" cy="413.0" r="6.5"/><circle cx="136.2" cy="415.5" r="6.5"/><circle cx="141.2" cy="417.2" r="6.5"/><circle cx="151.9" cy="423.7" r="6.5"/><circle cx="156.9" cy="425.6" r="6.5"/><circle cx="164.2" cy="430.9" r="6.5"/><circle cx="171.0" cy="436.3" r="6.5"/><circle cx="176.2" cy="439.9" r="6.5"/><circle cx="184.2" cy="446.1" r="6.5"/><circle cx="191.3" cy="452.8" r="6.5"/><circle cx="195.5" cy="457.0" r="6.5"/><circle cx="202.3" cy="467.0" r="6.5"/><circle cx="207.6" cy="471.5" r="6.5"/><circle cx="212.5" cy="475.9" r="6.5"/><circle cx="218.1" cy="483.5" r="6.5"/><circle cx="221.5" cy="489.4" r="6.5"/><circle cx="225.8" cy="494.9" r="6.5"/><circle cx="228.8" cy="501.5" r="6.5"/><circle cx="230.2" cy="508.1" r="6.5"/><circle cx="239.0" cy="513.2" r="6.5"/><circle cx="246.0" cy="517.2" r="6.5"/><circle cx="250.2" cy="522.4" r="6.4"/><circle cx="252.0" cy="530.5" r="6.5"/><circle cx="254.4" cy="537.3" r="6.5"/><circle cx="254.2" cy="543.3" r="6.5"/><circle cx="259.9" cy="549.8" r="6.5"/><circle cx="265.5" cy="557.9" r="6.5"/><circle cx="270.6" cy="563.0" r="6.5"/><circle cx="274.2" cy="570.4" r="6.5"/><circle cx="275.2" cy="576.4" r="6.5"/><circle cx="281.5" cy="582.5" r="6.5"/><circle cx="285.7" cy="589.2" r="6.2"/><circle cx="287.3" cy="595.4" r="6.5"/><circle cx="291.6" cy="601.6" r="6.5"/><circle cx="295.5" cy="610.3" r="6.5"/><circle cx="300.0" cy="614.4" r="6.5"/><circle cx="304.2" cy="621.1" r="6.5"/><circle cx="308.6" cy="627.0" r="6.5"/><circle cx="309.6" cy="633.4" r="6.5"/><circle cx="317.4" cy="646.1" r="6.5"/><circle cx="320.8" cy="648.1" r="2.8"/></g>
<path d="M80.5,396.6 L82.1,396.8 L83.7,397.0 L85.2,397.2 L86.8,397.5 L88.4,397.8 L90.0,398.1 L91.6,398.4 L93.2,398.7 L94.7,399.0 L96.3,399.4 L97.9,399.8 L99.5,400.2 L101.1,400.6 L102.7,401.0 L104.2,401.4 L105.8,401.9 L107.4,402.4 L109.0,402.9 L110.6,403.4 L112.2,403.9 L113.7,404.5 L115.3,405.1 L116.9,405.6 L118.5,406.2 L120.1,406.9 L121.6,407.5 L123.2,408.2 L124.8,408.9 L126.4,409.5 L128.0,410.3 L129.6,411.0 L131.1,411.8 L132.7,412.5 L134.3,413.3 L135.9,414.1 L137.5,415.0 L139.1,415.8 L140.6,416.7 L142.2,417.6 L143.8,418.5 L145.4,419.4 L147.0,420.4 L148.5,421.3 L150.1,422.3 L151.7,423.3 L153.3,424.3 L154.9,425.4 L156.5,426.4 L158.0,427.5 L159.6,428.6 L161.2,429.8 L162.8,430.9 L164.4,432.1 L166.0,433.3 L167.5,434.5 L169.1,435.7 L170.7,436.9 L172.3,438.2 L173.9,439.5 L175.5,440.8 L177.0,442.1 L178.6,443.5 L180.2,444.8 L181.8,446.2 L183.4,447.6 L184.9,449.1 L186.5,450.5 L188.1,452.0 L189.7,453.5 L191.3,455.0 L192.9,456.5 L194.4,458.1 L196.0,459.7 L197.6,461.3 L199.2,462.9 L200.8,464.5 L202.4,466.2 L203.9,467.9 L205.5,469.6 L207.1,471.3 L208.7,473.1 L210.3,474.8 L211.9,476.6 L213.4,478.4 L215.0,480.3 L216.6,482.1 L218.2,484.0 L219.8,485.9 L221.3,487.8 L222.9,489.8 L224.5,491.7 L226.1,493.7 L227.7,495.7 L229.3,497.8 L230.8,499.8 L232.4,501.9 L234.0,504.0 L235.6,506.1 L237.2,508.2 L238.8,510.4 L240.3,512.6 L241.9,514.8 L243.5,517.0 L245.1,519.2 L246.7,521.5 L248.3,523.8 L249.8,526.1 L251.4,528.5 L253.0,530.8 L254.6,533.2 L256.2,535.6 L257.7,538.0 L259.3,540.5 L260.9,543.0 L262.5,545.5 L264.1,548.0 L265.7,550.5 L267.2,553.1 L268.8,555.7 L270.4,558.3 L272.0,560.9 L273.6,563.6 L275.2,566.2 L276.7,568.9 L278.3,571.7 L279.9,574.4 L281.5,577.2 L283.1,580.0 L284.6,582.8 L286.2,585.6 L287.8,588.5 L289.4,591.4 L291.0,594.3 L292.6,597.2 L294.1,600.1 L295.7,603.1 L297.3,606.1 L298.9,609.1 L300.5,612.2 L302.1,615.3 L303.6,618.3 L305.2,621.5 L306.8,624.6 L308.4,627.8 L310.0,630.9 L311.6,634.1 L313.1,637.4 L314.7,640.6 L316.3,643.9" fill="none" stroke="#bfbfbf" stroke-width="3" stroke-linecap="round"/>
<g transform="translate(21.91,382.3) scale(1.1748,1)" fill="#000"><text x="0.00" y="0" font-size="26" font-weight="bold" xml:space="preserve">c</text></g>
<circle cx="103.4" cy="545.8" r="6.8" fill="#2f4270"/>
<g transform="translate(119.41,552.4) scale(1.0412,1)" fill="#1a1a1a"><text x="0.00" y="0" font-size="17.5" xml:space="preserve">Exp.</text></g>
<line x1="95.3" y1="569.3" x2="110.6" y2="569.3" stroke="#bfbfbf" stroke-width="3" stroke-linecap="butt"/>
<g transform="translate(119.38,576.3) scale(1.0606,1)" fill="#1a1a1a"><text x="0.00" y="0" font-size="17.5" xml:space="preserve">Fit to </text><text x="43.76" y="0" font-size="17.5" font-style="italic" xml:space="preserve">αT</text><text x="64.43" y="0" font-size="7" xml:space="preserve"> </text><text x="66.37" y="-9.4" font-size="11.5" font-style="italic" xml:space="preserve">n</text></g>
<g transform="translate(120.21,596.6) scale(1.0014,1)" fill="#c8c8c8"><text x="0.00" y="0" font-size="17.5" font-style="italic" xml:space="preserve">n</text><text x="9.73" y="0" font-size="17.5" xml:space="preserve"> = 2.65</text></g>
<g transform="translate(90.57,629.5) scale(1.0164,1)" fill="#2f4270"><text x="0.00" y="0" font-size="17.5" font-style="italic" xml:space="preserve">μ</text><text x="9.59" y="5.3" font-size="12.5" xml:space="preserve">0</text><text x="16.54" y="0" font-size="17.5" font-style="italic" xml:space="preserve">H</text><text x="29.18" y="5.3" font-size="12.5" xml:space="preserve">||</text><text x="35.67" y="0" font-size="17.5" xml:space="preserve"> = 20 mT</text></g>
<g transform="translate(183.21,702.8) scale(1.0104,1)" fill="#1a1a1a"><text x="0.00" y="0" font-size="17.5" font-style="italic" xml:space="preserve">T</text><text x="10.69" y="0" font-size="17.5" xml:space="preserve"> (K)</text></g>
<g transform="translate(18.5,566.1) rotate(-90) scale(1.0578,1) translate(-0.73,0)" fill="#1a1a1a"><text x="0.00" y="0" font-size="17.5" xml:space="preserve">δ</text><text x="9.74" y="0" font-size="17.5" font-style="italic" xml:space="preserve">f/f</text><text x="24.33" y="5.2" font-size="12.5" xml:space="preserve">0</text><text x="31.28" y="0" font-size="17.5" xml:space="preserve"> (×10</text><text x="71.65" y="-9.2" font-size="11.5" xml:space="preserve">−5</text><text x="84.77" y="0" font-size="17.5" xml:space="preserve">)</text></g>
<rect x="421.2" y="392.9" width="252.3" height="252.39999999999998" fill="none" stroke="#3c3c3c" stroke-width="1.1"/>
<line x1="413.2" y1="395.4" x2="421.2" y2="395.4" stroke="#3c3c3c" stroke-width="1.1" stroke-linecap="butt"/>
<g transform="translate(394.57,400.4) scale(1.2012,1)" fill="#1a1a1a"><text x="0.00" y="0" font-size="15.5" xml:space="preserve">0</text></g>
<line x1="413.2" y1="491.1" x2="421.2" y2="491.1" stroke="#3c3c3c" stroke-width="1.1" stroke-linecap="butt"/>
<g transform="translate(387.97,496.2) scale(0.9852,1)" fill="#1a1a1a"><text x="0.00" y="0" font-size="15" xml:space="preserve">−5</text></g>
<line x1="413.2" y1="587.3" x2="421.2" y2="587.3" stroke="#3c3c3c" stroke-width="1.1" stroke-linecap="butt"/>
<g transform="translate(380.49,592.4) scale(0.9536,1)" fill="#1a1a1a"><text x="0.00" y="0" font-size="15" xml:space="preserve">−10</text></g>
<line x1="469.4" y1="645.3" x2="469.4" y2="652.8" stroke="#3c3c3c" stroke-width="1.1" stroke-linecap="butt"/>
<g transform="translate(458.27,672.9) scale(1.0763,1)" fill="#1a1a1a"><text x="0.00" y="0" font-size="15" xml:space="preserve">0.2</text></g>
<line x1="537.4" y1="645.3" x2="537.4" y2="652.8" stroke="#3c3c3c" stroke-width="1.1" stroke-linecap="butt"/>
<g transform="translate(526.28,672.9) scale(1.0592,1)" fill="#1a1a1a"><text x="0.00" y="0" font-size="15" xml:space="preserve">0.4</text></g>
<line x1="605.4" y1="645.3" x2="605.4" y2="652.8" stroke="#3c3c3c" stroke-width="1.1" stroke-linecap="butt"/>
<g transform="translate(594.27,672.9) scale(1.0710,1)" fill="#1a1a1a"><text x="0.00" y="0" font-size="15" xml:space="preserve">0.6</text></g>
<line x1="673.4" y1="645.3" x2="673.4" y2="652.8" stroke="#3c3c3c" stroke-width="1.1" stroke-linecap="butt"/>
<g transform="translate(662.27,672.9) scale(1.0706,1)" fill="#1a1a1a"><text x="0.00" y="0" font-size="15" xml:space="preserve">0.8</text></g>
<g fill="#9f3a52"><polygon points="429.3,402.0 436.2,403.8 442.2,408.0 448.1,411.7 454.5,414.4 460.8,417.5 466.6,421.5 472.7,424.8 479.3,427.4 485.7,430.4 492.2,433.3 498.2,437.0 503.8,441.4 509.6,445.3 515.3,449.2 521.3,453.3 526.9,457.4 531.2,463.3 536.2,468.3 542.1,472.2 547.3,476.8 552.6,481.4 558.1,486.1 562.2,491.8 566.8,497.3 571.9,502.0 576.1,507.7 580.7,512.9 586.1,517.4 590.4,523.1 594.5,528.7 598.4,534.6 603.3,539.7 608.3,544.6 613.5,549.3 617.1,555.6 620.9,561.4 624.8,567.2 629.1,572.7 633.7,578.2 637.9,583.7 642.4,589.1 647.1,594.4 651.7,599.6 656.6,604.6 661.0,610.1 665.2,615.8 667.7,622.5 669.8,625.8 666.0,619.7 661.6,614.4 657.4,608.8 653.0,603.3 648.2,598.0 643.7,592.8 639.0,587.5 634.3,582.3 630.3,576.7 626.3,570.8 621.7,565.6 618.4,559.3 614.9,553.0 609.9,548.0 605.1,543.0 600.7,537.7 596.6,531.9 592.2,526.4 587.9,520.8 583.1,515.6 578.5,510.4 573.9,505.1 569.2,499.8 564.9,494.4 559.6,489.7 554.6,484.9 550.1,479.4 544.1,475.5 537.8,472.0 531.8,468.3 525.9,464.4 520.4,460.2 516.1,454.4 510.2,450.7 504.6,446.5 499.1,442.1 493.1,438.7 486.5,435.9 480.5,432.4 474.7,428.7 468.3,425.9 462.7,421.9 456.5,418.7 450.0,416.6 443.8,413.6 437.7,410.5 431.5,407.3 425.5,403.1"/><circle cx="429.3" cy="402.0" r="6.20"/><circle cx="436.2" cy="403.8" r="6.20"/><circle cx="442.2" cy="408.0" r="6.20"/><circle cx="448.1" cy="411.7" r="6.20"/><circle cx="454.5" cy="414.4" r="6.20"/><circle cx="460.8" cy="417.5" r="6.20"/><circle cx="466.6" cy="421.5" r="6.20"/><circle cx="472.7" cy="424.8" r="6.20"/><circle cx="479.3" cy="427.4" r="6.20"/><circle cx="485.7" cy="430.4" r="6.20"/><circle cx="492.2" cy="433.3" r="6.20"/><circle cx="498.2" cy="437.0" r="6.20"/><circle cx="503.8" cy="441.4" r="6.20"/><circle cx="509.6" cy="445.3" r="6.20"/><circle cx="515.3" cy="449.2" r="6.20"/><circle cx="521.3" cy="453.3" r="6.20"/><circle cx="526.9" cy="457.4" r="6.20"/><circle cx="531.2" cy="463.3" r="6.20"/><circle cx="536.2" cy="468.3" r="6.20"/><circle cx="542.1" cy="472.2" r="6.20"/><circle cx="547.3" cy="476.8" r="6.20"/><circle cx="552.6" cy="481.4" r="6.20"/><circle cx="558.1" cy="486.1" r="6.20"/><circle cx="562.2" cy="491.8" r="6.20"/><circle cx="566.8" cy="497.3" r="6.20"/><circle cx="571.9" cy="502.0" r="6.20"/><circle cx="576.1" cy="507.7" r="6.20"/><circle cx="580.7" cy="512.9" r="6.20"/><circle cx="586.1" cy="517.4" r="6.20"/><circle cx="590.4" cy="523.1" r="6.20"/><circle cx="594.5" cy="528.7" r="6.20"/><circle cx="598.4" cy="534.6" r="6.20"/><circle cx="603.3" cy="539.7" r="6.20"/><circle cx="608.3" cy="544.6" r="6.20"/><circle cx="613.5" cy="549.3" r="6.20"/><circle cx="617.1" cy="555.6" r="6.20"/><circle cx="620.9" cy="561.4" r="6.20"/><circle cx="624.8" cy="567.2" r="6.20"/><circle cx="629.1" cy="572.7" r="6.20"/><circle cx="633.7" cy="578.2" r="6.20"/><circle cx="637.9" cy="583.7" r="6.20"/><circle cx="642.4" cy="589.1" r="6.20"/><circle cx="647.1" cy="594.4" r="6.20"/><circle cx="651.7" cy="599.6" r="6.20"/><circle cx="656.6" cy="604.6" r="6.20"/><circle cx="661.0" cy="610.1" r="6.20"/><circle cx="665.2" cy="615.8" r="6.20"/><circle cx="667.7" cy="622.5" r="5.68"/><circle cx="425.5" cy="403.1" r="6.20"/><circle cx="431.5" cy="407.3" r="6.20"/><circle cx="437.7" cy="410.5" r="6.20"/><circle cx="443.8" cy="413.6" r="6.20"/><circle cx="450.0" cy="416.6" r="6.20"/><circle cx="456.5" cy="418.7" r="6.20"/><circle cx="462.7" cy="421.9" r="6.20"/><circle cx="468.3" cy="425.9" r="6.20"/><circle cx="474.7" cy="428.7" r="6.20"/><circle cx="480.5" cy="432.4" r="6.20"/><circle cx="486.5" cy="435.9" r="6.20"/><circle cx="493.1" cy="438.7" r="6.20"/><circle cx="499.1" cy="442.1" r="6.20"/><circle cx="504.6" cy="446.5" r="6.20"/><circle cx="510.2" cy="450.7" r="6.20"/><circle cx="516.1" cy="454.4" r="6.20"/><circle cx="520.4" cy="460.2" r="6.20"/><circle cx="525.9" cy="464.4" r="6.20"/><circle cx="531.8" cy="468.3" r="6.20"/><circle cx="537.8" cy="472.0" r="6.20"/><circle cx="544.1" cy="475.5" r="6.20"/><circle cx="550.1" cy="479.4" r="6.20"/><circle cx="554.6" cy="484.9" r="6.20"/><circle cx="559.6" cy="489.7" r="6.20"/><circle cx="564.9" cy="494.4" r="6.20"/><circle cx="569.2" cy="499.8" r="6.20"/><circle cx="573.9" cy="505.1" r="6.20"/><circle cx="578.5" cy="510.4" r="6.20"/><circle cx="583.1" cy="515.6" r="6.20"/><circle cx="587.9" cy="520.8" r="6.20"/><circle cx="592.2" cy="526.4" r="6.20"/><circle cx="596.6" cy="531.9" r="6.20"/><circle cx="600.7" cy="537.7" r="6.20"/><circle cx="605.1" cy="543.0" r="6.20"/><circle cx="609.9" cy="548.0" r="6.20"/><circle cx="614.9" cy="553.0" r="6.20"/><circle cx="618.4" cy="559.3" r="6.20"/><circle cx="621.7" cy="565.6" r="6.20"/><circle cx="626.3" cy="570.8" r="6.20"/><circle cx="630.3" cy="576.7" r="6.20"/><circle cx="634.3" cy="582.3" r="6.20"/><circle cx="639.0" cy="587.5" r="6.20"/><circle cx="643.7" cy="592.8" r="6.20"/><circle cx="648.2" cy="598.0" r="6.20"/><circle cx="653.0" cy="603.3" r="6.20"/><circle cx="657.4" cy="608.8" r="6.20"/><circle cx="661.6" cy="614.4" r="6.20"/><circle cx="666.0" cy="619.7" r="6.20"/><circle cx="669.8" cy="625.8" r="4.93"/></g>
<g fill="#9f3a52"><circle cx="425.8" cy="399.2" r="6.4"/><circle cx="617" cy="562" r="6.2"/><circle cx="673.9" cy="626.4" r="6.3"/></g>
<path d="M426.4,403.3 L428.1,403.7 L429.7,404.2 L431.4,404.7 L433.0,405.2 L434.7,405.8 L436.3,406.3 L438.0,406.9 L439.6,407.5 L441.3,408.2 L442.9,408.8 L444.6,409.4 L446.2,410.1 L447.9,410.8 L449.5,411.5 L451.2,412.2 L452.8,413.0 L454.5,413.8 L456.2,414.5 L457.8,415.3 L459.5,416.1 L461.1,417.0 L462.8,417.8 L464.4,418.7 L466.1,419.5 L467.7,420.4 L469.4,421.3 L471.0,422.2 L472.7,423.2 L474.3,424.1 L476.0,425.1 L477.6,426.1 L479.3,427.1 L480.9,428.1 L482.6,429.1 L484.3,430.2 L485.9,431.2 L487.6,432.3 L489.2,433.4 L490.9,434.5 L492.5,435.6 L494.2,436.7 L495.8,437.8 L497.5,439.0 L499.1,440.2 L500.8,441.4 L502.4,442.5 L504.1,443.8 L505.7,445.0 L507.4,446.2 L509.1,447.5 L510.7,448.7 L512.4,450.0 L514.0,451.3 L515.7,452.6 L517.3,453.9 L519.0,455.3 L520.6,456.6 L522.3,458.0 L523.9,459.3 L525.6,460.7 L527.2,462.1 L528.9,463.5 L530.5,464.9 L532.2,466.4 L533.8,467.8 L535.5,469.3 L537.2,470.8 L538.8,472.2 L540.5,473.7 L542.1,475.2 L543.8,476.8 L545.4,478.3 L547.1,479.8 L548.7,481.4 L550.4,483.0 L552.0,484.6 L553.7,486.2 L555.3,487.8 L557.0,489.4 L558.6,491.0 L560.3,492.7 L561.9,494.3 L563.6,496.0 L565.3,497.7 L566.9,499.4 L568.6,501.1 L570.2,502.8 L571.9,504.5 L573.5,506.2 L575.2,508.0 L576.8,509.7 L578.5,511.5 L580.1,513.3 L581.8,515.1 L583.4,516.9 L585.1,518.7 L586.7,520.6 L588.4,522.4 L590.0,524.3 L591.7,526.1 L593.4,528.0 L595.0,529.9 L596.7,531.8 L598.3,533.7 L600.0,535.6 L601.6,537.5 L603.3,539.5 L604.9,541.4 L606.6,543.4 L608.2,545.4 L609.9,547.4 L611.5,549.4 L613.2,551.4 L614.8,553.4 L616.5,555.4 L618.2,557.5 L619.8,559.5 L621.5,561.6 L623.1,563.7 L624.8,565.8 L626.4,567.9 L628.1,570.0 L629.7,572.1 L631.4,574.2 L633.0,576.4 L634.7,578.5 L636.3,580.7 L638.0,582.8 L639.6,585.0 L641.3,587.2 L642.9,589.4 L644.6,591.6 L646.3,593.9 L647.9,596.1 L649.6,598.3 L651.2,600.6 L652.9,602.9 L654.5,605.1 L656.2,607.4 L657.8,609.7 L659.5,612.0 L661.1,614.3 L662.8,616.7 L664.4,619.0 L666.1,621.4 L667.7,623.7 L669.4,626.1 L671.0,628.5 L672.7,630.9" fill="none" stroke="#bfbfbf" stroke-width="3" stroke-linecap="round"/>
<g transform="translate(380.17,382.3) scale(1.1525,1)" fill="#000"><text x="0.00" y="0" font-size="26" font-weight="bold" xml:space="preserve">d</text></g>
<circle cx="452.4" cy="536.3" r="6.8" fill="#9f3a52"/>
<g transform="translate(469.30,541.1) scale(1.0474,1)" fill="#1a1a1a"><text x="0.00" y="0" font-size="17.5" xml:space="preserve">Exp.</text></g>
<line x1="444.1" y1="561.7" x2="459.9" y2="561.7" stroke="#bfbfbf" stroke-width="3" stroke-linecap="butt"/>
<g transform="translate(469.29,567.4) scale(1.0507,1)" fill="#1a1a1a"><text x="0.00" y="0" font-size="17.5" xml:space="preserve">Fit to </text><text x="43.76" y="0" font-size="17.5" font-style="italic" xml:space="preserve">αT</text><text x="64.43" y="0" font-size="7" xml:space="preserve"> </text><text x="66.37" y="-9.4" font-size="11.5" font-style="italic" xml:space="preserve">n</text></g>
<g transform="translate(470.13,587.1) scale(0.9381,1)" fill="#c8c8c8"><text x="0.00" y="0" font-size="17.5" font-style="italic" xml:space="preserve">n</text><text x="9.73" y="0" font-size="17.5" xml:space="preserve"> = 1.5</text></g>
<g transform="translate(434.57,630.4) scale(1.0134,1)" fill="#9f3a52"><text x="0.00" y="0" font-size="17.5" font-style="italic" xml:space="preserve">μ</text><text x="9.59" y="5.3" font-size="12.5" xml:space="preserve">0</text><text x="16.54" y="0" font-size="17.5" font-style="italic" xml:space="preserve">H</text><text x="29.18" y="5.3" font-size="12.5" xml:space="preserve">⊥</text><text x="38.55" y="0" font-size="17.5" xml:space="preserve"> = 25 mT</text></g>
<g transform="translate(527.61,702.8) scale(1.0104,1)" fill="#1a1a1a"><text x="0.00" y="0" font-size="17.5" font-style="italic" xml:space="preserve">T</text><text x="10.69" y="0" font-size="17.5" xml:space="preserve"> (K)</text></g>
<polygon points="237,72.6 255,47.2 279.9,47.2 266.8,72.6" fill="#3a5f85" stroke="#3a5f85" stroke-width="0.4"/>
<polygon points="266.8,72.6 279.9,47.2 279.9,61.5 266.8,89.9" fill="#0c2f52" stroke="#0c2f52" stroke-width="0.4"/>
<polygon points="266.8,89.9 279.9,61.5 279.9,74.6 266.8,105.7" fill="#7a6d54" stroke="#7a6d54" stroke-width="0.4"/>
<rect x="237" y="72.6" width="29.8" height="17.3" fill="#004b80"/>
<rect x="237" y="89.9" width="29.8" height="15.8" fill="#b9a886"/>
<line x1="277.2" y1="104.9" x2="290.97" y2="76.74" stroke="#9a9a9a" stroke-width="3.0" stroke-linecap="butt"/>
<polygon points="294.7,69.1 294.7,79.7 286.4,75.6" fill="#9a9a9a"/>
<g transform="translate(295.75,101.6) scale(1.0242,1)" fill="#a6a6a6"><text x="0.00" y="0" font-size="17.5" font-style="italic" xml:space="preserve">H</text><text x="12.64" y="5" font-size="12.5" xml:space="preserve">||</text></g>
<polygon points="237,427.7 255,402.3 279.9,402.3 266.8,427.7" fill="#3a5f85" stroke="#3a5f85" stroke-width="0.4"/>
<polygon points="266.8,427.7 279.9,402.3 279.9,416.6 266.8,445.0" fill="#0c2f52" stroke="#0c2f52" stroke-width="0.4"/>
<polygon points="266.8,445.0 279.9,416.6 279.9,429.7 266.8,460.8" fill="#7a6d54" stroke="#7a6d54" stroke-width="0.4"/>
<rect x="237" y="427.7" width="29.8" height="17.3" fill="#004b80"/>
<rect x="237" y="445.0" width="29.8" height="15.8" fill="#b9a886"/>
<line x1="277.2" y1="460.0" x2="290.97" y2="431.84" stroke="#9a9a9a" stroke-width="3.0" stroke-linecap="butt"/>
<polygon points="294.7,424.2 294.7,434.8 286.4,430.7" fill="#9a9a9a"/>
<g transform="translate(294.78,457.7) scale(0.9727,1)" fill="#a6a6a6"><text x="0.00" y="0" font-size="17.5" font-style="italic" xml:space="preserve">H</text><text x="12.64" y="5" font-size="12.5" xml:space="preserve">||</text></g>
<polygon points="577.2,69.8 595.2,44.4 620.0999999999999,44.4 607.0,69.8" fill="#3a5f85" stroke="#3a5f85" stroke-width="0.4"/>
<polygon points="607.0,69.8 620.0999999999999,44.4 620.0999999999999,58.7 607.0,87.1" fill="#0c2f52" stroke="#0c2f52" stroke-width="0.4"/>
<polygon points="607.0,87.1 620.0999999999999,58.7 620.0999999999999,71.8 607.0,102.9" fill="#7a6d54" stroke="#7a6d54" stroke-width="0.4"/>
<rect x="577.2" y="69.8" width="29.8" height="17.3" fill="#004b80"/>
<rect x="577.2" y="87.1" width="29.8" height="15.8" fill="#b9a886"/>
<line x1="614.7" y1="96.1" x2="642.3" y2="96.1" stroke="#9a9a9a" stroke-width="3.0" stroke-linecap="butt"/>
<polygon points="650.8,96.1 641.3,100.7 641.3,91.5" fill="#9a9a9a"/>
<g transform="translate(625.26,79.7) scale(1.0090,1)" fill="#a6a6a6"><text x="0.00" y="0" font-size="17.5" font-style="italic" xml:space="preserve">H</text><text x="12.64" y="5" font-size="12.5" xml:space="preserve">⊥</text></g>
<polygon points="577.2,432.0 595.2,406.6 620.0999999999999,406.6 607.0,432.0" fill="#3a5f85" stroke="#3a5f85" stroke-width="0.4"/>
<polygon points="607.0,432.0 620.0999999999999,406.6 620.0999999999999,420.9 607.0,449.3" fill="#0c2f52" stroke="#0c2f52" stroke-width="0.4"/>
<polygon points="607.0,449.3 620.0999999999999,420.9 620.0999999999999,434.0 607.0,465.1" fill="#7a6d54" stroke="#7a6d54" stroke-width="0.4"/>
<rect x="577.2" y="432.0" width="29.8" height="17.3" fill="#004b80"/>
<rect x="577.2" y="449.3" width="29.8" height="15.8" fill="#b9a886"/>
<line x1="614.7" y1="458.3" x2="642.3" y2="458.3" stroke="#9a9a9a" stroke-width="3.0" stroke-linecap="butt"/>
<polygon points="650.8,458.3 641.3,462.9 641.3,453.7" fill="#9a9a9a"/>
<g transform="translate(627.24,436.0) scale(1.0387,1)" fill="#a6a6a6"><text x="0.00" y="0" font-size="17.5" font-style="italic" xml:space="preserve">H</text><text x="12.64" y="5" font-size="12.5" xml:space="preserve">⊥</text></g>
<rect x="77.2" y="745.9" width="597.0999999999999" height="174.60000000000002" fill="none" stroke="#3c3c3c" stroke-width="1.1"/><g fill="#6e91c3"><circle cx="79.3" cy="779.5" r="3.5"/><circle cx="85.3" cy="779.2" r="3.5"/><circle cx="93.0" cy="779.6" r="3.5"/><circle cx="102.0" cy="781.4" r="3.5"/><circle cx="111.9" cy="763.6" r="3.5"/><circle cx="122.5" cy="782.1" r="3.5"/><circle cx="134.5" cy="782.4" r="3.5"/><circle cx="152.0" cy="782.0" r="3.5"/><circle cx="167.3" cy="781.3" r="3.5"/><circle cx="182.4" cy="780.4" r="3.5"/><circle cx="198.0" cy="779.5" r="3.5"/><circle cx="213.4" cy="778.0" r="3.5"/><circle cx="228.8" cy="777.1" r="3.5"/><circle cx="244.9" cy="776.2" r="3.5"/><circle cx="260.4" cy="774.2" r="3.5"/><circle cx="275.8" cy="773.9" r="3.5"/><circle cx="291.2" cy="773.9" r="3.5"/><circle cx="306.3" cy="773.1" r="3.5"/><circle cx="321.3" cy="773.6" r="3.5"/><circle cx="337.0" cy="774.1" r="3.5"/><circle cx="353.6" cy="776.0" r="3.5"/><circle cx="373.1" cy="776.2" r="3.5"/><circle cx="392.7" cy="777.6" r="3.5"/><circle cx="414.4" cy="782.6" r="3.5"/><circle cx="436.3" cy="783.4" r="3.5"/><circle cx="459.5" cy="784.4" r="3.5"/><circle cx="482.6" cy="785.1" r="3.5"/><circle cx="507.8" cy="786.5" r="3.5"/><circle cx="532.4" cy="788.7" r="3.5"/><circle cx="555.7" cy="793.2" r="3.5"/><circle cx="578.4" cy="802.1" r="3.5"/><circle cx="598.5" cy="811.5" r="3.5"/><circle cx="615.1" cy="811.1" r="3.5"/><circle cx="630.3" cy="810.6" r="3.5"/><circle cx="646.1" cy="809.3" r="3.5"/><circle cx="661.6" cy="806.9" r="3.5"/></g><g fill="#0b2d69"><circle cx="82.2" cy="764.9" r="3.5"/><circle cx="88.6" cy="764.9" r="3.5"/><circle cx="95.8" cy="764.9" r="3.5"/><circle cx="103.4" cy="764.9" r="3.5"/><circle cx="112.5" cy="765.4" r="3.5"/><circle cx="122.5" cy="753.2" r="3.5"/><circle cx="133.2" cy="764.3" r="3.5"/><circle cx="144.7" cy="764.6" r="3.5"/><circle cx="156.8" cy="764.6" r="3.5"/><circle cx="169.9" cy="764.6" r="3.5"/><circle cx="184.1" cy="764.6" r="3.5"/><circle cx="198.5" cy="764.3" r="3.5"/><circle cx="213.4" cy="763.9" r="3.5"/><circle cx="228.2" cy="763.7" r="3.5"/><circle cx="242.5" cy="763.9" r="3.5"/><circle cx="256.5" cy="766.6" r="3.5"/><circle cx="270.5" cy="767.1" r="3.5"/><circle cx="284.3" cy="768.0" r="3.5"/><circle cx="298.4" cy="780.1" r="3.5"/><circle cx="311.9" cy="778.9" r="3.5"/><circle cx="325.6" cy="777.4" r="3.5"/><circle cx="340.2" cy="776.2" r="3.5"/><circle cx="354.8" cy="772.1" r="3.5"/><circle cx="371.5" cy="765.6" r="3.5"/><circle cx="388.9" cy="765.7" r="3.5"/><circle cx="406.8" cy="765.7" r="3.5"/><circle cx="427.2" cy="765.7" r="3.5"/><circle cx="448.4" cy="766.0" r="3.5"/><circle cx="469.5" cy="766.3" r="3.5"/><circle cx="492.2" cy="766.6" r="3.5"/><circle cx="515" cy="767.0" r="3.5"/><circle cx="539.6" cy="767.9" r="3.5"/><circle cx="565.3" cy="770.2" r="3.5"/><circle cx="592.4" cy="775.8" r="3.5"/><circle cx="620.7" cy="789.7" r="3.5"/><circle cx="650.4" cy="780.0" r="3.5"/><circle cx="672.5" cy="775.9" r="3.5"/></g><g fill="#c4654f"><circle cx="83.9" cy="911.3" r="3.5"/><circle cx="89.8" cy="910.4" r="3.5"/><circle cx="96.2" cy="898.4" r="3.5"/><circle cx="103.0" cy="904.0" r="3.5"/><circle cx="110.6" cy="901.3" r="3.5"/><circle cx="119.2" cy="902.8" r="3.5"/><circle cx="128.3" cy="903.4" r="3.5"/><circle cx="137.6" cy="902.3" r="3.5"/><circle cx="147.8" cy="900.8" r="3.5"/><circle cx="159.0" cy="906.5" r="3.5"/><circle cx="170.7" cy="907.3" r="3.5"/><circle cx="183.0" cy="907.9" r="3.5"/><circle cx="195.2" cy="908.2" r="3.5"/><circle cx="207.2" cy="908.4" r="3.5"/><circle cx="219.8" cy="909.1" r="3.5"/><circle cx="232.5" cy="910.1" r="3.5"/><circle cx="245.0" cy="910.3" r="3.5"/><circle cx="257.3" cy="910.1" r="3.5"/><circle cx="269.5" cy="908.5" r="3.5"/><circle cx="281.6" cy="905.6" r="3.5"/><circle cx="293.9" cy="906.0" r="3.5"/><circle cx="306.6" cy="902.9" r="3.5"/><circle cx="318.9" cy="900.9" r="3.5"/><circle cx="331.7" cy="899.1" r="3.5"/><circle cx="345.4" cy="897.0" r="3.5"/><circle cx="359.0" cy="894.6" r="3.5"/><circle cx="374.0" cy="891.9" r="3.5"/><circle cx="389.5" cy="890.1" r="3.5"/><circle cx="405.8" cy="888.4" r="3.5"/><circle cx="422.4" cy="891.5" r="3.5"/><circle cx="439.4" cy="909.7" r="3.5"/><circle cx="457.4" cy="907.3" r="3.5"/><circle cx="476.2" cy="904.4" r="3.5"/><circle cx="494.3" cy="901.2" r="3.5"/><circle cx="512.9" cy="897.7" r="3.5"/><circle cx="532.0" cy="894.8" r="3.5"/><circle cx="551.9" cy="892.5" r="3.5"/><circle cx="572.8" cy="891.1" r="3.5"/><circle cx="590.9" cy="890.4" r="3.5"/><circle cx="608.4" cy="890.0" r="3.5"/><circle cx="623.7" cy="890.0" r="3.5"/><circle cx="636.5" cy="890.6" r="3.5"/><circle cx="651.2" cy="891.3" r="3.5"/><circle cx="665.2" cy="891.8" r="3.5"/><circle cx="674.0" cy="892.7" r="3.5"/></g><g fill="#8c2452"><circle cx="92.3" cy="877.1" r="3.5"/><circle cx="98.9" cy="875.4" r="3.5"/><circle cx="105.8" cy="877.7" r="3.5"/><circle cx="113.5" cy="878.3" r="3.5"/><circle cx="121.6" cy="878.5" r="3.5"/><circle cx="130.9" cy="878.6" r="3.5"/><circle cx="140.3" cy="878.9" r="3.5"/><circle cx="150.2" cy="879.1" r="3.5"/><circle cx="161.1" cy="879.4" r="3.5"/><circle cx="172.7" cy="879.6" r="3.5"/><circle cx="184.4" cy="880.2" r="3.5"/><circle cx="196.4" cy="881.1" r="3.5"/><circle cx="208.4" cy="882.9" r="3.5"/><circle cx="220.6" cy="887.5" r="3.5"/><circle cx="232.3" cy="885.2" r="3.5"/><circle cx="244.4" cy="893.4" r="3.5"/><circle cx="255.9" cy="887.5" r="3.5"/><circle cx="267.6" cy="902.5" r="3.5"/><circle cx="279.0" cy="897.8" r="3.5"/><circle cx="290.6" cy="894.8" r="3.5"/><circle cx="302.5" cy="892.7" r="3.5"/><circle cx="313.8" cy="890.4" r="3.5"/><circle cx="325.5" cy="887.4" r="3.5"/><circle cx="338.4" cy="883.7" r="3.5"/><circle cx="351.2" cy="882.2" r="3.5"/><circle cx="364.2" cy="881.2" r="3.5"/><circle cx="378.7" cy="881.7" r="3.5"/><circle cx="394.1" cy="881.7" r="3.5"/><circle cx="410.5" cy="881.9" r="3.5"/><circle cx="426.7" cy="881.9" r="3.5"/><circle cx="443.5" cy="881.9" r="3.5"/><circle cx="460.6" cy="881.9" r="3.5"/><circle cx="477.8" cy="881.9" r="3.5"/><circle cx="496.5" cy="881.7" r="3.5"/><circle cx="514.5" cy="881.6" r="3.5"/><circle cx="533.5" cy="881.6" r="3.5"/><circle cx="552.6" cy="881.0" r="3.5"/><circle cx="572.2" cy="879.2" r="3.5"/><circle cx="590.4" cy="877.4" r="3.5"/><circle cx="607.9" cy="875.5" r="3.5"/><circle cx="623.7" cy="873.4" r="3.5"/><circle cx="638.6" cy="872.0" r="3.5"/><circle cx="652.1" cy="870.8" r="3.5"/><circle cx="664.9" cy="870.2" r="3.5"/><circle cx="673.6" cy="869.5" r="3.5"/></g>
<line x1="69.2" y1="745.9" x2="77.2" y2="745.9" stroke="#3c3c3c" stroke-width="1.1" stroke-linecap="butt"/>
<g transform="translate(50.71,751.0) scale(1.2093,1)" fill="#1a1a1a"><text x="0.00" y="0" font-size="15" xml:space="preserve">3</text></g>
<line x1="69.2" y1="833.3" x2="77.2" y2="833.3" stroke="#3c3c3c" stroke-width="1.1" stroke-linecap="butt"/>
<g transform="translate(51.12,838.4) scale(1.1707,1)" fill="#1a1a1a"><text x="0.00" y="0" font-size="15" xml:space="preserve">2</text></g>
<line x1="69.2" y1="920.5" x2="77.2" y2="920.5" stroke="#3c3c3c" stroke-width="1.1" stroke-linecap="butt"/>
<g transform="translate(53.41,925.6) scale(0.8659,1)" fill="#1a1a1a"><text x="0.00" y="0" font-size="15" xml:space="preserve">1</text></g>
<line x1="77.1" y1="920.5" x2="77.1" y2="928.0" stroke="#3c3c3c" stroke-width="1.1" stroke-linecap="butt"/>
<g transform="translate(67.19,949) scale(0.9573,1)" fill="#1a1a1a"><text x="0.00" y="0" font-size="15" xml:space="preserve">0.1</text></g>
<line x1="162.2" y1="920.5" x2="162.2" y2="928.0" stroke="#3c3c3c" stroke-width="1.1" stroke-linecap="butt"/>
<g transform="translate(151.07,949) scale(1.0763,1)" fill="#1a1a1a"><text x="0.00" y="0" font-size="15" xml:space="preserve">0.2</text></g>
<line x1="247.29999999999998" y1="920.5" x2="247.29999999999998" y2="928.0" stroke="#3c3c3c" stroke-width="1.1" stroke-linecap="butt"/>
<g transform="translate(236.17,949) scale(1.0710,1)" fill="#1a1a1a"><text x="0.00" y="0" font-size="15" xml:space="preserve">0.3</text></g>
<line x1="332.4" y1="920.5" x2="332.4" y2="928.0" stroke="#3c3c3c" stroke-width="1.1" stroke-linecap="butt"/>
<g transform="translate(321.28,949) scale(1.0592,1)" fill="#1a1a1a"><text x="0.00" y="0" font-size="15" xml:space="preserve">0.4</text></g>
<line x1="417.5" y1="920.5" x2="417.5" y2="928.0" stroke="#3c3c3c" stroke-width="1.1" stroke-linecap="butt"/>
<g transform="translate(406.37,949) scale(1.0695,1)" fill="#1a1a1a"><text x="0.00" y="0" font-size="15" xml:space="preserve">0.5</text></g>
<line x1="502.6" y1="920.5" x2="502.6" y2="928.0" stroke="#3c3c3c" stroke-width="1.1" stroke-linecap="butt"/>
<g transform="translate(491.47,949) scale(1.0710,1)" fill="#1a1a1a"><text x="0.00" y="0" font-size="15" xml:space="preserve">0.6</text></g>
<line x1="587.6999999999999" y1="920.5" x2="587.6999999999999" y2="928.0" stroke="#3c3c3c" stroke-width="1.1" stroke-linecap="butt"/>
<g transform="translate(576.57,949) scale(1.0763,1)" fill="#1a1a1a"><text x="0.00" y="0" font-size="15" xml:space="preserve">0.7</text></g>
<line x1="672.8" y1="920.5" x2="672.8" y2="928.0" stroke="#3c3c3c" stroke-width="1.1" stroke-linecap="butt"/>
<g transform="translate(661.67,949) scale(1.0706,1)" fill="#1a1a1a"><text x="0.00" y="0" font-size="15" xml:space="preserve">0.8</text></g>
<g transform="translate(21.88,738.7) scale(1.2026,1)" fill="#000"><text x="0.00" y="0" font-size="26" font-weight="bold" xml:space="preserve">e</text></g>
<g transform="translate(340.29,979) scale(1.0255,1)" fill="#1a1a1a"><text x="0.00" y="0" font-size="17.5" font-style="italic" xml:space="preserve">T</text><text x="10.69" y="5" font-size="12.5" xml:space="preserve">cutoff</text><text x="41.26" y="0" font-size="17.5" xml:space="preserve"> (K)</text></g>
<g transform="translate(33.9,838.1) rotate(-90) scale(1.0523,1) translate(-0.29,0)" fill="#1a1a1a"><text x="0.00" y="0" font-size="17.5" font-style="italic" xml:space="preserve">n</text></g>
</g></svg>
</body></html>
